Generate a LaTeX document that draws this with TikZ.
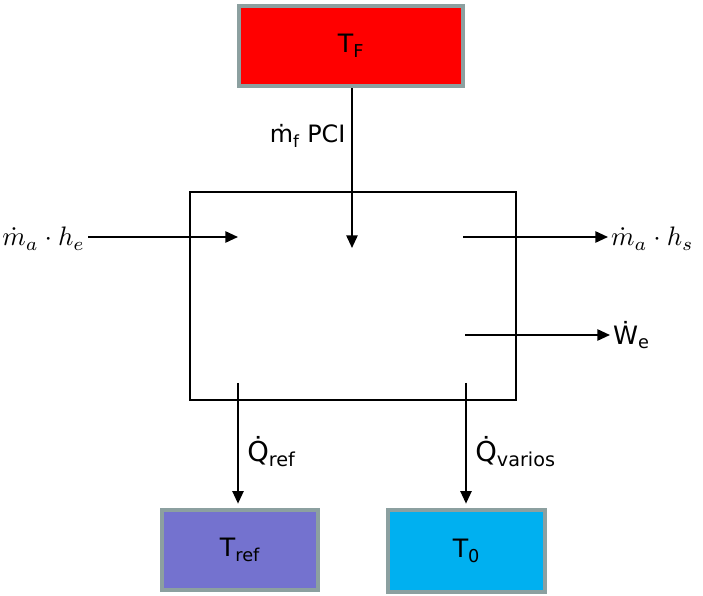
\documentclass[tikz,border=0pt]{standalone}
\usepackage{fontspec}
\setmainfont{DejaVu Sans}
\usetikzlibrary{arrows.meta}
\definecolor{rim}{RGB}{140,160,160}
\definecolor{fuelred}{RGB}{255,0,0}
\definecolor{refblue}{RGB}{116,114,207}
\definecolor{ambblue}{RGB}{0,176,240}
\tikzset{
  tank/.style={draw=rim, line width=3pt, inner sep=0pt, font=\fontsize{18}{22}\selectfont},
  flow/.style={-{Triangle[length=9pt,width=8pt]}, line width=1.3pt},
  lbl/.style={inner sep=2pt, font=\fontsize{17}{20}\selectfont},
  qlbl/.style={inner sep=2pt, font=\fontsize{19.5}{23}\selectfont},
  mlbl/.style={inner sep=2pt}
}
\newcommand{\bigmath}[1]{\scalebox{1.9}{$#1$}}
\begin{document}
\begin{tikzpicture}[x=0.025cm,y=-0.025cm]
    \useasboundingbox (0,0) rectangle (703,596);
    % reservoirs
    \node[tank, fill=fuelred, minimum width=5.6cm, minimum height=2cm] (tf) at (351,46) {T\textsubscript{F}};
    \node[tank, fill=refblue, minimum width=3.9cm, minimum height=2cm] (tref) at (240,550) {T\textsubscript{ref}};
    \node[tank, fill=ambblue, minimum width=3.93cm, minimum height=2.05cm] (t0) at (466.5,551) {T\textsubscript{0}};
    % control volume
    \node[draw, line width=2pt, minimum width=8.15cm, minimum height=5.2cm] (cv) at (353,296) {};
    \coordinate (fin) at (352,248);
    \coordinate (ain) at (238,237);
    \coordinate (aout) at (463,237);
    \coordinate (wout) at (465,335);
    \coordinate (qr) at (238,383);
    \coordinate (qv) at (466,383);
    % flows
    \node[mlbl, anchor=base east] (mae) at (88,246) {\bigmath{\dot{m}_a\cdot h_e}};
    \node[mlbl, anchor=base west] (mas) at (608,246) {\bigmath{\dot{m}_a\cdot h_s}};
    \node[lbl, anchor=west, font=\fontsize{18}{21}\selectfont] (we) at (610,335) {Ẇ\textsubscript{e}};
    \draw[flow] (fin |- tf.south) -- (fin) node[lbl, pos=.3, left=2pt] (mf) {ṁ\textsubscript{f} PCI};
    \draw[flow] (mae.east |- ain) -- (ain);
    \draw[flow] (aout) -- (mas.west |- aout);
    \draw[flow] (wout) -- (we.west |- wout);
    \draw[flow, shorten >=3pt] (qr) -- (qr |- tref.north) node[qlbl, pos=.55, right=4pt] (qref) {Q̇\textsubscript{ref}};
    \draw[flow, shorten >=3pt] (qv) -- (qv |- t0.north) node[qlbl, pos=.55, right=4pt] (qvar) {Q̇\textsubscript{varios}};
\end{tikzpicture}
\end{document}
